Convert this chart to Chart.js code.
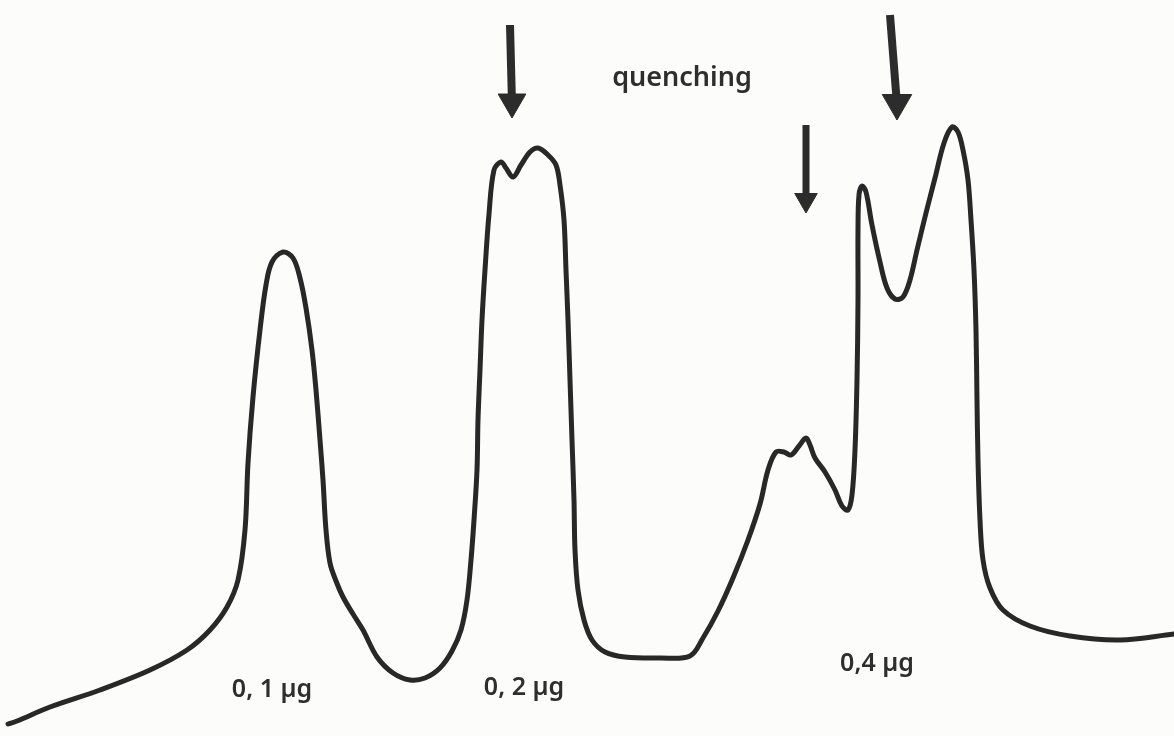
<!DOCTYPE html>
<html>
<head>
<meta charset="utf-8">
<script src="https://cdn.jsdelivr.net/npm/chart.js@4.4.1/dist/chart.umd.min.js"></script>
<style>
  html, body { margin: 0; padding: 0; background: #fcfcfb; }
  #wrap { width: 1174px; height: 736px; }
</style>
</head>
<body>
<div id="wrap"><canvas id="trace" width="1174" height="736"></canvas></div>
<script>
// recorder trace (x = chart position, y = signal height)
const traceX = [8, 17, 50, 100, 150, 187, 210, 227, 238, 245, 248, 253, 260, 266, 272, 283,
  293, 300, 306, 312, 316, 320, 323, 326, 330, 336, 343, 353, 363, 377, 393, 410, 425,
  440, 452, 461, 467, 471, 474, 477, 478, 480, 482, 485, 489, 494, 501, 506, 513, 521, 530, 538, 548, 556,
  560, 564, 566, 568, 570, 572, 574, 575, 578, 584, 592, 605, 625, 660, 690,
  703, 718, 733, 748, 760, 768, 776, 784, 791, 799, 806, 810, 815, 825, 835, 842, 848,
  852, 855, 857, 858, 858, 859, 862, 866, 872, 880, 887, 895, 903, 910, 917, 926, 935, 944, 952,
  958, 963, 968, 971, 974, 976, 977, 978, 980, 983, 990, 1003, 1030, 1070, 1120, 1174];
const traceY = [12, 15, 29, 46, 66, 86, 106, 129, 156, 206, 273, 339, 406, 451, 474, 484,
  478, 458, 428, 386, 346, 296, 256, 206, 173, 155, 139, 122, 106, 79, 63, 56, 58,
  68, 85, 106, 136, 176, 216, 266, 316, 366, 416, 466, 522, 566, 574, 568, 559, 571, 584, 588, 581, 571,
  551, 516, 466, 416, 356, 296, 236, 186, 146, 116, 96, 84, 79, 78, 80,
  98, 125, 158, 196, 232, 266, 284, 284, 281, 290, 298, 291, 278, 264, 246, 230, 226,
  241, 286, 356, 436, 506, 541, 550, 544, 511, 474, 448, 437, 439, 456, 486, 523, 558, 593, 609,
  604, 586, 556, 516, 466, 406, 336, 276, 216, 176, 148, 126, 110, 100, 96, 102];

// arrows marking the quenching points (shaft top -> head tip)
const arrowTopX = [510, 806, 890];
const arrowTipX = [512, 806, 897];
const arrowTop = [711, 611, 721];
const arrowTip = [618, 523, 616];

// labels
const peakLabels = ["0, 1 µg", "0, 2 µg", "0,4 µg"];
const peakLabelX = [272, 524, 877];
const peakLabelY = [46, 48, 72];
const noteText = "quenching";
const noteX = 682;
const noteY = 658;

const HEAD_R = [16, 13, 17];
const traceData = traceX.map((x, i) => ({ x: x, y: traceY[i] }));

const arrowSets = arrowTopX.map((x, i) => ({
    label: "arrow" + i,
    data: [{ x: x, y: arrowTop[i] }, { x: arrowTipX[i], y: arrowTip[i] + HEAD_R[i] * 0.9 }],
    showLine: true,
    borderColor: "#2c2c2c",
    borderWidth: i === 1 ? 7 : 8,
    pointRadius: 0,
    tension: 0
}));

const headSet = {
    label: "heads",
    data: arrowTipX.map((x, i) => ({ x: x, y: arrowTip[i] + HEAD_R[i] })),
    showLine: false,
    pointStyle: "triangle",
    rotation: 180,
    pointRadius: HEAD_R,
    backgroundColor: "#2c2c2c",
    borderColor: "#2c2c2c",
    borderWidth: 1
};

const textPlugin = {
    id: "peakText",
    afterDatasetsDraw(chart) {
        const ctx = chart.ctx;
        const xs = chart.scales.x, ys = chart.scales.y;
        ctx.save();
        ctx.fillStyle = "#2e2e2e";
        ctx.textAlign = "center";
        ctx.textBaseline = "middle";
        ctx.font = "600 25px 'Noto Sans'";
        peakLabels.forEach((t, i) => {
            ctx.fillText(t, xs.getPixelForValue(peakLabelX[i]), ys.getPixelForValue(peakLabelY[i]));
        });
        ctx.font = "600 27px 'Noto Sans'";
        ctx.fillText(noteText, xs.getPixelForValue(noteX), ys.getPixelForValue(noteY));
        ctx.restore();
    }
};

new Chart(document.getElementById("trace"), {
    type: "scatter",
    data: {
        datasets: [{
            label: "trace",
            data: traceData,
            showLine: true,
            borderColor: "#282828",
            borderWidth: 5,
            pointRadius: 0,
            tension: 0.35,
            borderCapStyle: "round",
            borderJoinStyle: "round"
        }, ...arrowSets, headSet]
    },
    options: {
        responsive: false,
        animation: false,
        layout: { padding: 0, autoPadding: false },
        plugins: { legend: { display: false }, tooltip: { enabled: false } },
        scales: {
            x: { type: "linear", min: 0, max: 1174, display: false },
            y: { type: "linear", min: 0, max: 736, display: false }
        }
    },
    plugins: [textPlugin]
});
</script>
</body>
</html>
